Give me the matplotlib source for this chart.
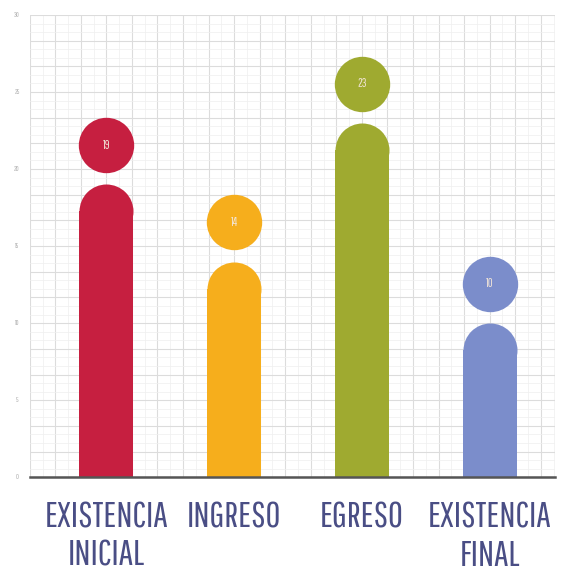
import numpy as np
import matplotlib.pyplot as plt
from matplotlib.ticker import MultipleLocator

plt.rcParams.update({
    "font.family": ["Pathway Gothic One", "DejaVu Sans"],
})

categories = ["EXISTENCIA\nINICIAL", "INGRESO", "EGRESO", "EXISTENCIA\nFINAL"]
values = [19, 14, 23, 10]
colors = ["#c61f40", "#f6ae1c", "#9faa30", "#7b8dcb"]
yticks = [0, 5, 10, 15, 20, 25, 30]


def plot(plot_file: str) -> None:
    fig = plt.figure()
    fig.set_size_inches(5.61, 5.75)
    ax = fig.add_axes([0.053, 0.170, 0.936, 0.804])

    ax.set_xlim(-0.60, 3.51)
    ax.set_ylim(0, 30)

    # pixel scale of the axes, used to size rounded caps and circles
    ax_h_px = 0.804 * 575
    ax_w_px = 0.936 * 561
    px_per_y = ax_h_px / 30
    px_per_x = ax_w_px / 4.11

    bar_px = 54
    bar_w = bar_px / px_per_x
    cap_r = (bar_px / 2) / px_per_y
    diam_pt = bar_px * 72 / 100

    x = np.arange(len(values))
    for xi, v, c in zip(x, values, colors):
        ax.bar(xi, v - cap_r, width=bar_w, color=c, zorder=3)
        ax.plot(xi, v - cap_r, "o", markersize=diam_pt, color=c,
                markeredgewidth=0, zorder=3)
        ax.plot(xi, v + 2.55, "o", markersize=diam_pt + 1, color=c,
                markeredgewidth=0, zorder=3)
        ax.text(xi, v + 2.55, str(v), ha="center", va="center",
                fontsize=8.5, color="#f3e6d8", zorder=4)

    # grid
    ax.yaxis.set_major_locator(MultipleLocator(5 / 3))
    ax.yaxis.set_minor_locator(MultipleLocator(5 / 9))
    ax.xaxis.set_major_locator(MultipleLocator(0.2))
    ax.xaxis.set_minor_locator(MultipleLocator(0.1))
    ax.grid(which="major", color="#dcdcdc", linewidth=0.8, zorder=0)
    ax.grid(which="minor", color="#efefef", linewidth=0.5, zorder=0)
    ax.tick_params(which="both", length=0, labelbottom=False, labelleft=False)
    for s in ax.spines.values():
        s.set_visible(False)
    ax.axhline(0, color="#555555", linewidth=1.8, zorder=5, clip_on=False)

    for t in yticks:
        ax.text(-0.70, t, str(t), ha="center", va="center", fontsize=5,
                color="#b0b0b0")

    for xi, lab in zip(x, categories):
        ax.text(xi, -1.5, lab, ha="center", va="top", fontsize=26,
                color="#4a4e85", linespacing=1.2)

    fig.savefig(plot_file, dpi=100)
    plt.close(fig)


def main() -> None:
    plot("out.png")


if __name__ == '__main__':
    main()
